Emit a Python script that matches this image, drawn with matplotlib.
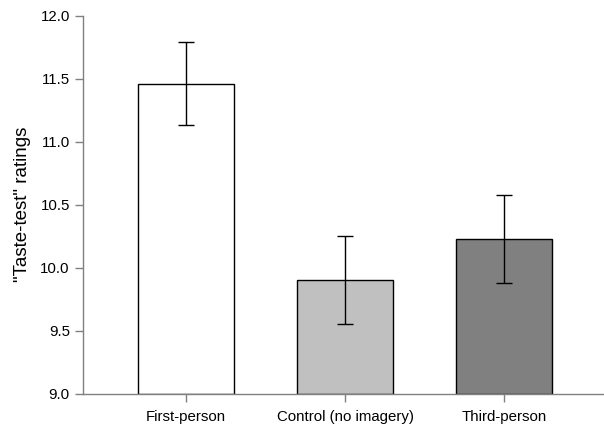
import numpy as np
import matplotlib.pyplot as plt

plt.rcParams['font.family'] = ['Liberation Sans', 'DejaVu Sans']

groups = ['First-person', 'Control (no imagery)', 'Third-person']
means = [11.46, 9.90, 10.23]
errors = [0.33, 0.35, 0.35]
colors = ['#ffffff', '#c0c0c0', '#808080']

fig = plt.figure(figsize=(6.04, 4.29), dpi=100)
ax = fig.add_axes([0.1374, 0.0823, 0.8610, 0.8807])

x = np.arange(len(groups))
ax.bar(x, np.array(means) - 9.0, bottom=9.0, width=0.6, color=colors,
       edgecolor='black', linewidth=1.0, zorder=2)
ax.errorbar(x, means, yerr=errors, fmt='none', ecolor='black',
            elinewidth=1.0, capsize=5.5, capthick=1.0, zorder=3)

ax.set_xlim(-0.645, 2.62)
ax.set_ylim(9.0, 12.0)
ax.set_yticks(np.arange(9.0, 12.01, 0.5))
ax.set_yticklabels([f'{v:.1f}' for v in np.arange(9.0, 12.01, 0.5)])
ax.set_xticks(x)
ax.set_xticklabels(groups)
ax.set_ylabel('"Taste-test" ratings', fontsize=13.5, labelpad=7)

for s in ['top', 'right']:
    ax.spines[s].set_visible(False)
for s in ['left', 'bottom']:
    ax.spines[s].set_color('#808080')
    ax.spines[s].set_linewidth(1.0)
ax.tick_params(axis='both', colors='#808080', labelcolor='black',
               labelsize=10.8, length=6, width=1.0)
ax.tick_params(axis='x', pad=6)

fig.savefig('out.png', dpi=100)
